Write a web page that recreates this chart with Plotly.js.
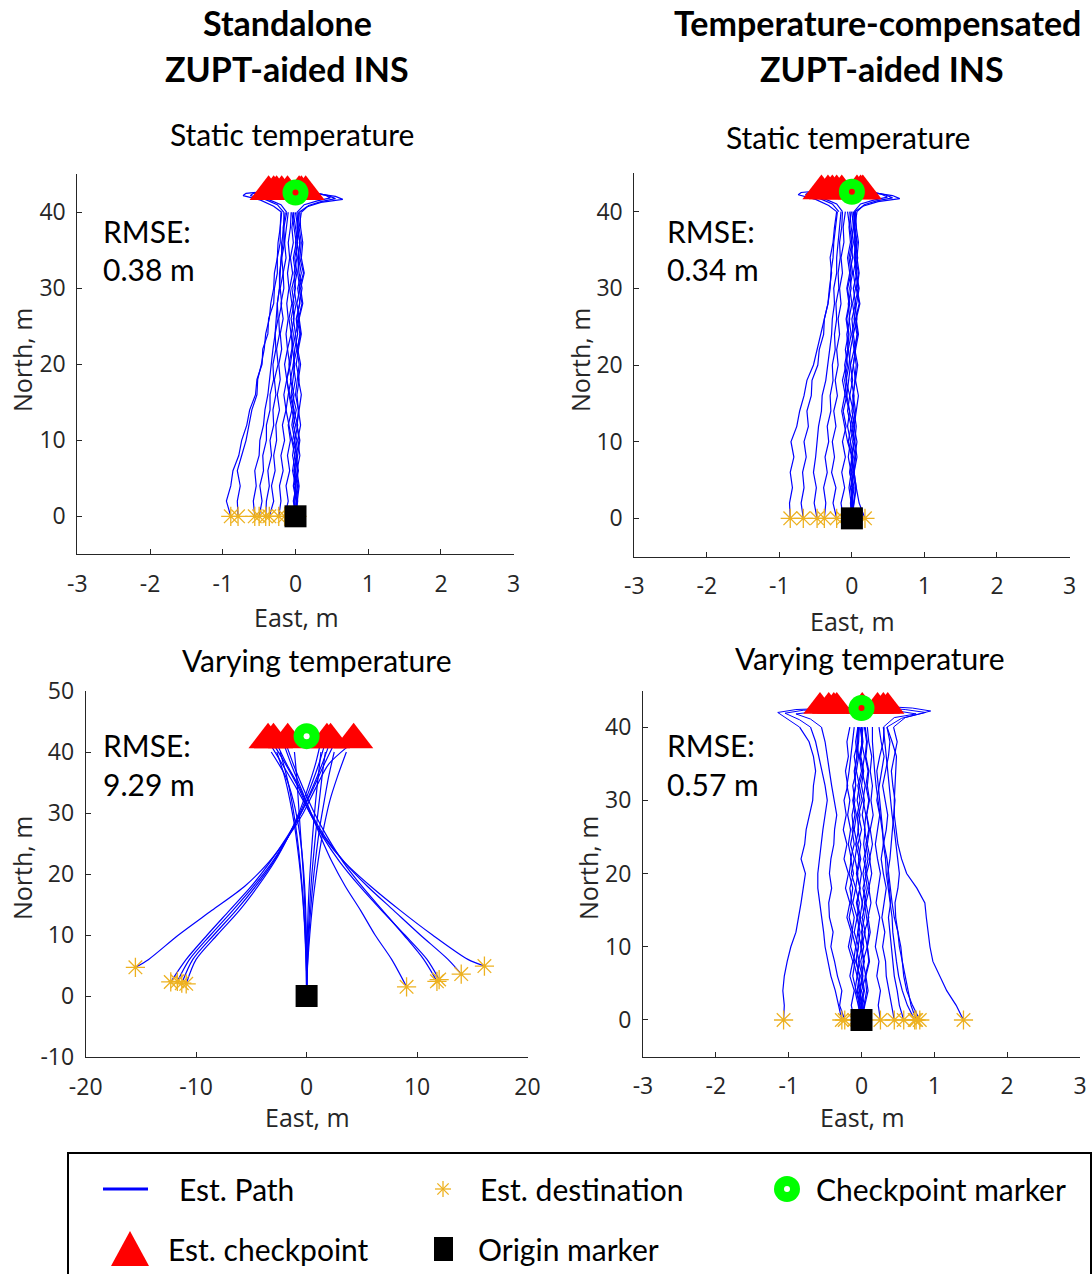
<!DOCTYPE html>
<html><head><meta charset="utf-8">
<script src="https://cdn.plot.ly/plotly-3.0.1.min.js"></script>
<style>html,body{margin:0;padding:0;background:#fff;}#chart{width:1092px;height:1274px;}</style>
</head><body><div id="chart"></div>
<script>
// ---------------- DATA ----------------
// shared north stations (m) for the jagged walking legs
const stationsY = [0,2,4,6,8,10,12,14,16,18,20,22,24,26,28,30,32,34,36,38,40];

// tick values and labels
const eastTicksSmall = [-3,-2,-1,0,1,2,3];
const eastLabelsSmall = ['-3','-2','-1','0','1','2','3'];
const eastTicksWide = [-20,-10,0,10,20];
const eastLabelsWide = ['-20','-10','0','10','20'];
const northTicks = [0,10,20,30,40];
const northLabels = ['0','10','20','30','40'];
const northTicksWide = [-10,0,10,20,30,40,50];
const northLabelsWide = ['-10','0','10','20','30','40','50'];

// Panel 1: standalone, static temperature
const p1OutX = [
 [0,0.02,-0.02,0.03,-0.01,0.02,-0.03,0.01,-0.04,0.0,-0.03,0.02,0.0,0.05,0.02,0.06,0.03,0.05,0.02,0.04,0.02],
 [0,-0.03,0.01,-0.02,0.02,-0.04,0.0,-0.05,-0.02,-0.07,-0.03,-0.01,0.03,0.01,0.06,0.03,0.08,0.04,0.06,0.03,0.05],
 [0,0.03,0.0,0.04,0.01,0.05,0.02,0.04,0.0,0.03,0.05,0.02,0.07,0.04,0.09,0.05,0.11,0.06,0.08,0.05,0.08],
 [0,-0.01,0.03,-0.02,0.02,-0.01,0.03,-0.03,-0.08,-0.12,-0.07,-0.04,-0.06,-0.02,-0.04,0.0,-0.02,0.02,0.0,0.03,0.0],
 [0,0.01,-0.03,0.0,-0.04,-0.01,-0.05,-0.02,-0.06,-0.03,-0.01,-0.04,0.0,-0.03,0.01,-0.02,0.02,-0.01,0.03,0.0,-0.03],
 [0,0.02,0.05,0.02,0.06,0.03,0.07,0.04,0.02,0.05,0.01,0.04,0.08,0.05,0.1,0.07,0.12,0.08,0.1,0.07,0.06],
 [0,-0.02,0.0,-0.04,-0.01,-0.05,-0.08,-0.13,-0.1,-0.06,-0.09,-0.05,-0.03,-0.06,-0.02,-0.05,0.0,-0.03,0.01,-0.02,-0.05],
 [0,0.01,0.04,0.0,0.03,0.06,0.02,0.05,0.08,0.04,0.07,0.03,0.06,0.02,0.05,0.09,0.05,0.03,0.06,0.02,0.04]
];
const p1BackX = [
 [-0.89,-0.95,-0.89,-0.86,-0.78,-0.74,-0.67,-0.63,-0.55,-0.53,-0.46,-0.45,-0.38,-0.37,-0.3,-0.29,-0.25,-0.25,-0.21,-0.21,-0.19],
 [-0.79,-0.8,-0.76,-0.8,-0.74,-0.68,-0.64,-0.6,-0.53,-0.52,-0.47,-0.43,-0.41,-0.36,-0.34,-0.3,-0.29,-0.25,-0.24,-0.21,-0.2],
 [-0.56,-0.58,-0.54,-0.56,-0.5,-0.49,-0.44,-0.42,-0.38,-0.36,-0.33,-0.31,-0.28,-0.27,-0.25,-0.22,-0.22,-0.19,-0.19,-0.16,-0.16],
 [-0.5,-0.46,-0.49,-0.44,-0.45,-0.4,-0.4,-0.35,-0.35,-0.3,-0.31,-0.27,-0.28,-0.24,-0.25,-0.22,-0.21,-0.2,-0.17,-0.17,-0.14],
 [-0.41,-0.4,-0.36,-0.38,-0.33,-0.35,-0.3,-0.31,-0.27,-0.29,-0.24,-0.26,-0.22,-0.23,-0.19,-0.21,-0.17,-0.19,-0.15,-0.16,-0.12],
 [-0.36,-0.3,-0.33,-0.28,-0.3,-0.26,-0.27,-0.22,-0.25,-0.21,-0.23,-0.19,-0.21,-0.17,-0.2,-0.16,-0.17,-0.13,-0.15,-0.12,-0.1],
 [-0.23,-0.2,-0.22,-0.17,-0.2,-0.15,-0.18,-0.13,-0.16,-0.12,-0.15,-0.11,-0.13,-0.1,-0.12,-0.09,-0.11,-0.08,-0.1,-0.07,-0.06],
 [-0.15,-0.1,-0.13,-0.08,-0.11,-0.07,-0.1,-0.05,-0.09,-0.12,-0.08,-0.11,-0.06,-0.09,-0.05,-0.08,-0.04,-0.07,-0.03,-0.05,-0.02]
];
const p1LoopX = [
 [-0.19,-0.3,-0.48,-0.72,-0.68,-0.45,-0.15,0.0],
 [-0.16,-0.25,-0.42,-0.62,-0.58,-0.35,-0.1,0.0],
 [-0.12,-0.2,-0.35,-0.55,-0.5,-0.3,-0.05,0.0],
 [0.05,0.15,0.35,0.65,0.55,0.3,0.05,0.0],
 [0.08,0.18,0.35,0.55,0.45,0.25,0.05,0.0],
 [0.02,0.12,0.3,0.48,0.4,0.2,0.05,0.0]
];
const p1LoopY = [
 [40,40.8,41.6,42.2,42.5,42.7,42.8,42.8],
 [40,41.0,41.7,42.2,42.5,42.7,42.8,42.8],
 [40,41.0,41.6,42.0,42.4,42.7,42.8,42.8],
 [40,40.7,41.3,41.7,42.1,42.5,42.8,42.8],
 [40,40.9,41.4,41.8,42.2,42.6,42.8,42.8],
 [40,41.0,41.5,41.9,42.3,42.6,42.8,42.8]
];
const p1DestX = [-0.89,-0.79,-0.56,-0.5,-0.41,-0.36,-0.23,-0.15,-0.05,0.02];
const p1DestY = [0,0,0,0,0,0,0,0,0,0];
const p1CheckX = [-0.37,-0.3,-0.26,-0.19,-0.11,0.05,0.08,0.14];
const p1CheckY = [42.7,42.7,42.7,42.7,42.7,42.7,42.7,42.7];

// Panel 2: temperature-compensated, static temperature
const p2OutX = [
 [0,0.01,-0.02,0.02,-0.01,0.03,-0.02,0.02,-0.03,0.01,-0.02,0.03,0.0,0.04,0.01,0.05,0.02,0.06,0.03,0.04,0.02],
 [0,-0.02,0.02,-0.03,0.01,-0.05,-0.01,-0.06,-0.03,-0.08,-0.04,-0.02,0.02,0.0,0.05,0.02,0.07,0.03,0.05,0.02,0.04],
 [0,0.02,-0.01,0.03,0.0,0.04,0.01,0.05,0.02,0.04,0.06,0.03,0.08,0.05,0.1,0.06,0.09,0.05,0.07,0.04,0.07],
 [0,0.0,0.03,-0.01,0.02,-0.02,0.02,-0.04,-0.09,-0.13,-0.08,-0.05,-0.07,-0.03,-0.05,-0.01,-0.03,0.01,-0.01,0.02,0.0],
 [0,-0.01,-0.04,-0.01,-0.05,-0.02,-0.06,-0.03,-0.07,-0.04,-0.02,-0.05,-0.01,-0.04,0.0,-0.03,0.01,-0.02,0.02,-0.01,-0.03],
 [0,0.03,0.06,0.03,0.07,0.04,0.06,0.03,0.01,0.05,0.02,0.05,0.09,0.06,0.11,0.07,0.1,0.07,0.09,0.06,0.05],
 [0,-0.01,0.01,-0.03,0.0,-0.06,-0.1,-0.14,-0.1,-0.07,-0.1,-0.06,-0.04,-0.07,-0.03,-0.06,-0.01,-0.04,0.0,-0.03,-0.06],
 [0,0.02,0.05,0.01,0.04,0.07,0.03,0.06,0.09,0.05,0.08,0.04,0.07,0.03,0.06,0.1,0.06,0.04,0.07,0.03,0.05]
];
const p2BackX = [
 [-0.85,-0.86,-0.82,-0.85,-0.8,-0.84,-0.76,-0.72,-0.66,-0.62,-0.53,-0.48,-0.42,-0.38,-0.33,-0.31,-0.28,-0.3,-0.26,-0.24,-0.21],
 [-0.67,-0.7,-0.66,-0.68,-0.63,-0.66,-0.6,-0.62,-0.56,-0.55,-0.47,-0.45,-0.39,-0.38,-0.33,-0.3,-0.29,-0.26,-0.25,-0.22,-0.2],
 [-0.48,-0.52,-0.49,-0.53,-0.5,-0.48,-0.46,-0.42,-0.41,-0.36,-0.33,-0.31,-0.28,-0.27,-0.24,-0.25,-0.21,-0.21,-0.19,-0.17,-0.15],
 [-0.38,-0.36,-0.39,-0.34,-0.37,-0.32,-0.34,-0.29,-0.3,-0.26,-0.27,-0.23,-0.24,-0.21,-0.22,-0.18,-0.19,-0.16,-0.17,-0.14,-0.13],
 [-0.21,-0.26,-0.22,-0.28,-0.24,-0.27,-0.22,-0.25,-0.2,-0.23,-0.19,-0.21,-0.17,-0.19,-0.15,-0.17,-0.13,-0.15,-0.11,-0.12,-0.09],
 [-0.12,-0.15,-0.1,-0.14,-0.09,-0.13,-0.08,-0.12,-0.07,-0.1,-0.06,-0.09,-0.05,-0.08,-0.04,-0.07,-0.03,-0.06,-0.02,-0.04,-0.01],
 [0.18,0.1,0.06,0.03,0.05,0.01,0.04,0.0,0.03,-0.01,0.02,0.05,0.02,0.07,0.04,0.09,0.05,0.08,0.04,0.06,0.03]
];
const p2LoopX = [
 [-0.21,-0.32,-0.5,-0.74,-0.7,-0.45,-0.15,0.0],
 [-0.18,-0.27,-0.44,-0.64,-0.6,-0.36,-0.1,0.0],
 [-0.13,-0.21,-0.36,-0.56,-0.5,-0.3,-0.05,0.0],
 [0.04,0.15,0.36,0.66,0.56,0.3,0.05,0.0],
 [0.07,0.17,0.34,0.56,0.46,0.25,0.05,0.0],
 [0.03,0.12,0.3,0.49,0.4,0.2,0.05,0.0]
];
const p2LoopY = [
 [40,40.8,41.6,42.2,42.5,42.7,42.8,42.8],
 [40,41.0,41.7,42.2,42.5,42.7,42.8,42.8],
 [40,41.0,41.6,42.0,42.4,42.7,42.8,42.8],
 [40,40.7,41.3,41.7,42.1,42.5,42.8,42.8],
 [40,40.9,41.4,41.8,42.2,42.6,42.8,42.8],
 [40,41.0,41.5,41.9,42.3,42.6,42.8,42.8]
];
const p2DestX = [-0.85,-0.67,-0.48,-0.38,-0.21,-0.12,0.05,0.18];
const p2DestY = [0,0,0,0,0,0,0,0];
const p2CheckX = [-0.42,-0.33,-0.27,-0.21,-0.14,0.07,0.12,0.15];
const p2CheckY = [42.7,42.7,42.7,42.7,42.7,42.7,42.7,42.7];

// Panel 3: standalone, varying temperature
const p3OutY = [0,4,8,12,16,20,24,28,32,36,40];
const p3OutX = [
 [0,0.0,-0.05,-0.1,-0.2,-0.3,-0.45,-0.6,-0.75,-0.9,-1.1],
 [0,-0.02,-0.08,-0.18,-0.32,-0.5,-0.72,-1.0,-1.35,-1.8,-2.4],
 [0,0.02,0.0,-0.05,-0.12,-0.25,-0.45,-0.75,-1.2,-1.9,-3.2],
 [0,0.03,0.1,0.2,0.32,0.48,0.68,0.9,1.15,1.4,1.7],
 [0,0.05,0.15,0.28,0.45,0.66,0.92,1.22,1.6,2.0,2.5],
 [0,0.06,0.2,0.38,0.6,0.88,1.2,1.6,2.1,2.8,3.6],
 [0,0.0,0.04,0.1,0.18,0.3,0.45,0.62,0.82,1.05,1.3],
 [0,-0.03,-0.1,-0.2,-0.35,-0.55,-0.8,-1.1,-1.5,-2.0,-2.7]
];
const p3BackY = [41,38,34,30,26,22,18,14,10,6];
const p3BackX = [
 [3.8,2.0,0.8,-0.3,-1.7,-3.4,-5.6,-8.6,-11.6,-14.3],
 [2.4,1.6,0.6,-0.5,-1.8,-3.3,-5.0,-7.0,-9.0,-10.9],
 [2.0,1.4,0.5,-0.5,-1.7,-3.1,-4.8,-6.7,-8.7,-10.6],
 [1.6,1.1,0.3,-0.6,-1.7,-3.0,-4.6,-6.4,-8.4,-10.3],
 [1.2,0.8,0.1,-0.7,-1.7,-2.9,-4.4,-6.1,-8.1,-10.0],
 [-2.0,-1.4,-0.5,0.4,1.3,2.3,3.5,4.9,6.2,7.7],
 [-1.8,-1.2,-0.3,0.7,1.9,3.3,5.0,6.9,8.8,10.6],
 [-3.2,-2.2,-0.9,0.3,1.5,3.0,4.8,6.8,8.9,10.9],
 [-2.6,-1.8,-0.6,0.4,1.7,3.4,5.5,7.9,10.3,12.8],
 [-2.9,-1.9,-0.7,0.3,1.6,3.4,5.8,8.5,11.4,14.6]
];
const p3DestX = [-15.5,-12.3,-11.7,-11.3,-10.9,9.05,11.8,12.0,14.0,16.1];
const p3DestY = [4.7,2.3,2.4,2.1,2.0,1.5,2.4,2.7,3.6,4.9];
const p3CheckX = [-3.49,-3.0,-1.71,1.84,2.17,4.26];
const p3CheckY = [42.0,42.0,42.0,42.0,42.0,42.0];

// Panel 4: temperature-compensated, varying temperature
const p4OutX = [
 [0,0.02,-0.03,0.01,-0.04,0.0,-0.05,-0.01,-0.06,-0.02,-0.07,-0.03,-0.08,-0.04,-0.06,-0.02,-0.05,0.0,-0.03,0.01,0.0],
 [0,-0.02,0.03,-0.01,0.04,0.0,0.05,0.01,0.06,0.02,0.07,0.03,0.08,0.04,0.06,0.02,0.05,0.01,0.04,0.0,0.02],
 [0,0.01,-0.05,-0.02,-0.08,-0.04,-0.1,-0.06,-0.12,-0.08,-0.14,-0.1,-0.15,-0.11,-0.13,-0.09,-0.12,-0.07,-0.1,-0.05,-0.04],
 [0,0.04,0.0,0.06,0.02,0.08,0.04,0.1,0.06,0.11,0.07,0.12,0.08,0.11,0.07,0.1,0.06,0.09,0.05,0.07,0.04],
 [0,-0.04,-0.01,-0.06,-0.03,-0.08,-0.05,-0.03,-0.07,-0.02,-0.06,-0.01,-0.05,0.0,-0.04,0.01,-0.03,0.02,-0.02,0.01,-0.02],
 [0,0.0,0.04,0.01,0.03,-0.01,0.02,-0.02,0.01,-0.03,0.0,-0.04,-0.01,-0.05,-0.02,-0.06,-0.03,-0.07,-0.04,-0.06,-0.05],
 [0.02,-0.03,-0.07,-0.12,-0.09,-0.15,-0.12,-0.17,-0.13,-0.16,-0.11,-0.15,-0.1,-0.13,-0.09,-0.12,-0.08,-0.1,-0.06,-0.08,-0.05],
 [0,0.03,0.07,0.05,0.1,0.08,0.12,0.09,0.13,0.1,0.14,0.11,0.15,0.12,0.16,0.13,0.15,0.12,0.14,0.1,0.08],
 [0,-0.05,-0.09,-0.06,-0.11,-0.08,-0.13,-0.1,-0.15,-0.12,-0.17,-0.14,-0.18,-0.15,-0.19,-0.16,-0.2,-0.17,-0.15,-0.12,-0.1],
 [0,0.05,0.09,0.06,0.11,0.08,0.1,0.07,0.04,0.08,0.05,0.09,0.06,0.1,0.07,0.11,0.08,0.1,0.06,0.08,0.05],
 [0,0.0,-0.02,0.02,-0.01,0.03,0.0,0.04,0.01,0.05,0.02,0.06,0.03,0.05,0.01,0.04,0.0,0.03,-0.01,0.02,0.0],
 [0,-0.02,-0.06,-0.03,-0.07,-0.04,-0.02,-0.06,-0.03,-0.08,-0.05,-0.09,-0.06,-0.1,-0.07,-0.11,-0.08,-0.09,-0.06,-0.04,-0.03]
];
const p4BackX = [
 [-1.07,-1.06,-1.08,-1.06,-1.02,-0.97,-0.9,-0.86,-0.83,-0.8,-0.77,-0.83,-0.78,-0.76,-0.72,-0.67,-0.66,-0.63,-0.66,-0.72,-0.85],
 [-0.27,-0.31,-0.36,-0.42,-0.46,-0.5,-0.52,-0.55,-0.57,-0.6,-0.6,-0.58,-0.55,-0.53,-0.5,-0.47,-0.5,-0.54,-0.58,-0.63,-0.7],
 [-0.23,-0.3,-0.27,-0.33,-0.37,-0.42,-0.39,-0.44,-0.45,-0.41,-0.44,-0.42,-0.38,-0.37,-0.34,-0.38,-0.41,-0.44,-0.47,-0.5,-0.55],
 [-0.1,-0.14,-0.1,-0.16,-0.12,-0.18,-0.14,-0.2,-0.16,-0.22,-0.18,-0.24,-0.2,-0.25,-0.21,-0.24,-0.19,-0.22,-0.18,-0.2,-0.16],
 [0.26,0.23,0.26,0.21,0.24,0.19,0.22,0.25,0.2,0.23,0.26,0.22,0.19,0.22,0.25,0.21,0.24,0.28,0.31,0.27,0.24],
 [0.45,0.41,0.38,0.34,0.33,0.29,0.32,0.28,0.31,0.34,0.3,0.27,0.3,0.34,0.36,0.32,0.29,0.33,0.37,0.39,0.35],
 [0.58,0.52,0.49,0.45,0.43,0.41,0.39,0.37,0.4,0.38,0.36,0.39,0.41,0.43,0.45,0.46,0.43,0.41,0.45,0.49,0.44],
 [0.73,0.63,0.56,0.51,0.48,0.45,0.43,0.42,0.39,0.37,0.34,0.33,0.3,0.29,0.27,0.25,0.23,0.21,0.25,0.3,0.31],
 [0.75,0.68,0.64,0.6,0.55,0.52,0.5,0.47,0.46,0.5,0.52,0.5,0.48,0.45,0.42,0.4,0.38,0.36,0.35,0.33,0.3],
 [0.8,0.7,0.62,0.58,0.56,0.54,0.5,0.45,0.42,0.4,0.38,0.35,0.31,0.28,0.25,0.22,0.2,0.18,0.16,0.15,0.15],
 [1.4,1.3,1.17,1.08,0.98,0.94,0.91,0.89,0.87,0.76,0.62,0.55,0.5,0.47,0.45,0.45,0.46,0.47,0.48,0.42,0.35]
];
const p4LoopX = [
 [-0.85,-1.0,-1.15,-0.9,-0.5,-0.1],
 [-0.7,-0.85,-1.05,-0.8,-0.4,0.0],
 [-0.55,-0.7,-0.9,-0.6,-0.3,0.0],
 [0.35,0.55,0.95,0.7,0.35,0.05],
 [0.44,0.6,0.88,0.6,0.3,0.0],
 [0.3,0.45,0.75,0.5,0.2,0.0]
];
const p4LoopY = [
 [40,41.0,42.0,42.4,42.6,42.7],
 [40,41.0,41.9,42.3,42.5,42.7],
 [40,41.1,41.8,42.2,42.5,42.6],
 [40,41.2,42.2,42.6,42.8,42.8],
 [40,41.3,42.0,42.4,42.6,42.7],
 [40,41.3,41.8,42.2,42.5,42.6]
];
const p4DestX = [-1.07,-0.27,-0.23,-0.1,0.26,0.45,0.58,0.73,0.75,0.8,1.4];
const p4DestY = [0,0,0,0,0,0,0,0,0,0,0];
const p4CheckX = [-0.57,-0.45,-0.38,-0.34,0.01,0.22,0.3,0.36];
const p4CheckY = [42.8,42.8,42.8,42.8,42.8,42.8,42.8,42.8];

// reference markers (true positions)
const checkpointX = [0];
const checkpointY = [42.6];
const originX = [0];
const originY = [0];

const rmseLabels = ['0.38 m','0.34 m','9.29 m','0.57 m'];

// ---------------- BUILD ----------------
const W = 1092, H = 1274;
const px = v => v / W, py = v => 1 - v / H;
const BLUE = '#0000FF', ORANGE = 'rgb(237,177,32)';

function axName(kind, ax) { return kind + ax; }
function linesTrace(xList, yList, ax, shape, width) {
  const x = [], y = [];
  xList.forEach((xs, i) => {
    const ys = Array.isArray(yList[0]) ? yList[i] : yList;
    xs.forEach((v, j) => { x.push(v); y.push(ys[j]); });
    x.push(null); y.push(null);
  });
  return {type:'scatter', mode:'lines', x, y, xaxis:axName('x', ax), yaxis:axName('y', ax),
    line:{color:BLUE, width:width||1.2, shape:shape||'linear', smoothing:0.8},
    hoverinfo:'skip', showlegend:false};
}
function markers(x, y, ax, marker) {
  return {type:'scatter', mode:'markers', x, y, xaxis:axName('x', ax), yaxis:axName('y', ax), marker,
    hoverinfo:'skip', showlegend:false, cliponaxis:false};
}
function dests(x, y, ax) { return markers(x, y, ax, {symbol:'asterisk-open', size:16, line:{color:ORANGE, width:1.3}, color:ORANGE}); }
function checks(x, y, ax, s) { return markers(x, y, ax, {symbol:'triangle-up', size:s, color:'#FF0000', line:{width:0}}); }
function refMarks(ax, dotColor) {
  return [
    markers(checkpointX, checkpointY, ax, {symbol:'circle', size:26, color:'#00FF00', line:{width:0}}),
    markers(checkpointX, checkpointY, ax, {symbol:'circle', size:6, color:dotColor, line:{width:0}}),
    markers(originX, originY, ax, {symbol:'square', size:22, color:'#000000', line:{width:0}})
  ];
}

const p3Back = p3BackX.map((xs, i) => xs.concat([p3DestX[i]]));
const p3BackYs = p3BackX.map((xs, i) => p3BackY.concat([p3DestY[i]]));

const traces = [
  // panel 1
  linesTrace(p1OutX, stationsY, ''), linesTrace(p1BackX, stationsY, ''), linesTrace(p1LoopX, p1LoopY, ''),
  dests(p1DestX, p1DestY, ''), checks(p1CheckX, p1CheckY, '', 33), ...refMarks('', '#FF0000'),
  // panel 2
  linesTrace(p2OutX, stationsY, '2'), linesTrace(p2BackX, stationsY, '2'), linesTrace(p2LoopX, p2LoopY, '2'),
  dests(p2DestX, p2DestY, '2'), checks(p2CheckX, p2CheckY, '2', 33), ...refMarks('2', '#FF0000'),
  // panel 3
  linesTrace(p3OutX, p3OutY, '3', 'spline', 1.2), linesTrace(p3Back, p3BackYs, '3', 'spline', 1.2),
  dests(p3DestX, p3DestY, '3'), checks(p3CheckX, p3CheckY, '3', 34), ...refMarks('3', '#FFFFFF'),
  // panel 4
  linesTrace(p4OutX, stationsY, '4'), linesTrace(p4BackX, stationsY, '4'),
  linesTrace(p4LoopX, p4LoopY, '4', 'linear', 1),
  checks(p4CheckX, p4CheckY, '4', 29),
  dests(p4DestX, p4DestY, '4'), ...refMarks('4', '#FF0000')
];

const TICKFONT = {family:'Open Sans, Noto Sans, sans-serif', size:23, color:'#262626'};
const axBase = {showline:true, linecolor:'#262626', linewidth:1, ticks:'inside', ticklen:5, tickwidth:1,
  tickcolor:'#262626', showgrid:false, zeroline:false, tickfont:TICKFONT, fixedrange:true, tickmode:'array'};
const xA = (dom, rng, tv, tt, anchor) => Object.assign({}, axBase, {domain:[px(dom[0]), px(dom[1])], range:rng, tickvals:tv, ticktext:tt, anchor, ticklabelstandoff:9});
const yA = (dom, rng, tv, tt, anchor) => Object.assign({}, axBase, {domain:[py(dom[1]), py(dom[0])], range:rng, tickvals:tv, ticktext:tt, anchor, ticklabelstandoff:6});

const layout = {
  width:W, height:H, margin:{l:0,r:0,t:0,b:0}, paper_bgcolor:'#ffffff', plot_bgcolor:'rgba(0,0,0,0)', showlegend:false,
  xaxis:  xA([77.3,513.7], [-3,3], eastTicksSmall, eastLabelsSmall, 'y'),
  yaxis:  yA([174.3,554.3], [-5,45], northTicks, northLabels, 'x'),
  xaxis2: xA([634.3,1069.5], [-3,3], eastTicksSmall, eastLabelsSmall, 'y2'),
  yaxis2: yA([173.3,556.7], [-5,45], northTicks, northLabels, 'x2'),
  xaxis3: xA([85.7,527.5], [-20,20], eastTicksWide, eastLabelsWide, 'y3'),
  yaxis3: yA([691,1057], [-10,50], northTicksWide, northLabelsWide, 'x3'),
  xaxis4: xA([643,1080], [-3,3], eastTicksSmall, eastLabelsSmall, 'y4'),
  yaxis4: yA([690.5,1056.6], [-5,45], northTicks, northLabels, 'x4'),
  annotations:[], shapes:[]
};

const CAL = 'Lato, Open Sans, sans-serif';
function ann(text, x, y, size, opts) {
  layout.annotations.push(Object.assign({text, x:px(x), y:py(y), xref:'paper', yref:'paper', showarrow:false,
    xanchor:'center', yanchor:'middle', font:{family:CAL, size, color:'#000000'}}, opts||{}));
}
// headers
ann('<b>Standalone</b>', 287, 22, 34);
ann('<b>ZUPT-aided INS</b>', 287, 68, 34);
ann('<b>Temperature-compensated</b>', 877, 22, 34);
ann('<b>ZUPT-aided INS</b>', 882, 68, 34);
// subplot titles
ann('Static temperature', 292, 134, 30);
ann('Static temperature', 848, 137, 30);
ann('Varying temperature', 317, 660, 30);
ann('Varying temperature', 870, 658, 30);
// RMSE
[[101,231,269,0],[665,231,269,1],[101,745,784,2],[665,745,784,3]].forEach(r => {
  ann('RMSE:', r[0], r[1], 30, {xanchor:'left'});
  ann(rmseLabels[r[3]], r[0], r[2], 30, {xanchor:'left'});
});
// axis titles
const AXF = {family:'Open Sans, Noto Sans, sans-serif', size:25, color:'#262626'};
[[296,617],[852,621],[307,1117],[862,1117]].forEach(p => ann('East, m', p[0], p[1], 25, {font:AXF}));
[[22,360],[580,360],[22,868],[588,868]].forEach(p => ann('North, m', p[0], p[1], 25, {font:AXF, textangle:-90}));

// legend box (drawn as shapes)
const S = layout.shapes;
S.push({type:'rect', xref:'paper', yref:'paper', x0:px(68), x1:px(1091), y0:py(1153), y1:py(1280), line:{color:'#000', width:2}, fillcolor:'rgba(0,0,0,0)'});
S.push({type:'line', xref:'paper', yref:'paper', x0:px(103), x1:px(148), y0:py(1189), y1:py(1189), line:{color:BLUE, width:3}});
(function(){ const cx=443, cy=1189, r=8, d=r*0.707;
  [[cx,cy-r,cx,cy+r],[cx-r,cy,cx+r,cy],[cx-d,cy-d,cx+d,cy+d],[cx-d,cy+d,cx+d,cy-d]].forEach(l =>
    S.push({type:'line', xref:'paper', yref:'paper', x0:px(l[0]), y0:py(l[1]), x1:px(l[2]), y1:py(l[3]), line:{color:ORANGE, width:1.3}}));
})();
S.push({type:'circle', xref:'paper', yref:'paper', x0:px(774), x1:px(800), y0:py(1202), y1:py(1176), fillcolor:'#00FF00', line:{width:0}});
S.push({type:'circle', xref:'paper', yref:'paper', x0:px(784), x1:px(790), y0:py(1192), y1:py(1186), fillcolor:'#FFFFFF', line:{width:0}});
S.push({type:'path', xref:'paper', yref:'paper', path:`M${px(130)},${py(1231)} L${px(149)},${py(1266)} L${px(111)},${py(1266)} Z`, fillcolor:'#FF0000', line:{width:0}});
S.push({type:'rect', xref:'paper', yref:'paper', x0:px(434), x1:px(453), y0:py(1261), y1:py(1237), fillcolor:'#000000', line:{width:0}});
ann('Est. Path', 177, 1189, 30, {xanchor:'left'});
ann('Est. destination', 478, 1189, 30, {xanchor:'left'});
ann('Checkpoint marker', 814, 1189, 30, {xanchor:'left'});
ann('Est. checkpoint', 166, 1249, 30, {xanchor:'left'});
ann('Origin marker', 476, 1249, 30, {xanchor:'left'});

Plotly.newPlot('chart', traces, layout, {displayModeBar:false, staticPlot:true});
</script></body></html>
